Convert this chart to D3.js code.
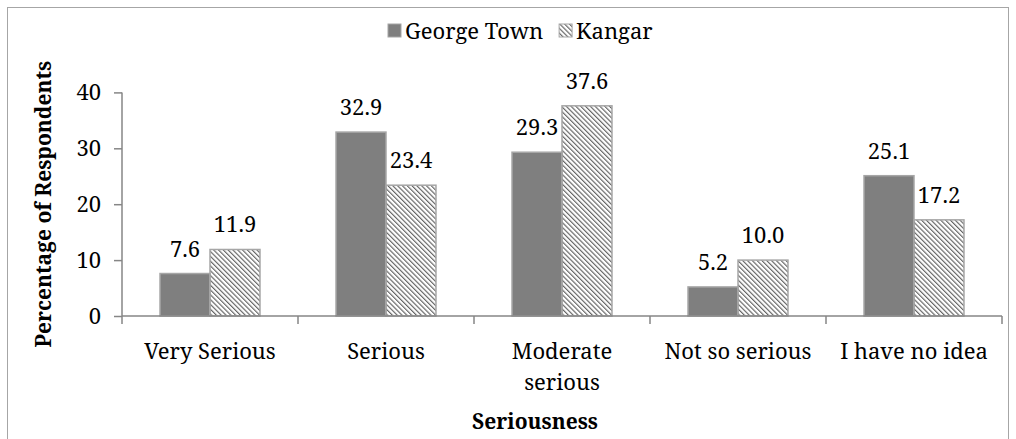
<!DOCTYPE html>
<html>
<head>
<meta charset="utf-8">
<script src="https://cdn.jsdelivr.net/npm/d3@7"></script>
<style>
    body { margin: 0; background: #fff; }
</style>
</head>
<body>
<svg id="chart" width="1016" height="439"></svg>
<script>
    var categories = ["Very Serious", "Serious", "Moderate serious", "Not so serious", "I have no idea"];
    var tickLines = [["Very Serious"], ["Serious"], ["Moderate", "serious"], ["Not so serious"], ["I have no idea"]];
    var seriesNames = ["George Town", "Kangar"];
    var georgeTown = [7.6, 32.9, 29.3, 5.2, 25.1];
    var kangar = [11.9, 23.4, 37.6, 10.0, 17.2];
    var yTicks = [0, 10, 20, 30, 40];

    var FONT = "'Noto Serif', 'Liberation Serif', serif";
    var fontSize = 22;

    var svg = d3.select("#chart");
    var margin = { left: 122, right: 14, top: 92.4, bottom: 123 };
    var width = 1016, height = 439;

    // outer frame
    svg.append("rect")
        .attr("x", 7.5).attr("y", 7.5)
        .attr("width", 1001).attr("height", 440)
        .attr("fill", "none")
        .attr("stroke", "#a6a6a6");

    var defs = svg.append("defs");
    defs.append("pattern")
        .attr("id", "hatch")
        .attr("patternUnits", "userSpaceOnUse")
        .attr("width", 3.4).attr("height", 3.4)
        .attr("patternTransform", "rotate(-45)")
        .append("line")
        .attr("x1", 0.6).attr("y1", 0)
        .attr("x2", 0.6).attr("y2", 3.4)
        .attr("stroke", "#5a5a5a")
        .attr("stroke-width", 1.1);

    var x0 = d3.scaleBand()
        .domain(categories)
        .range([margin.left, width - margin.right])
        .paddingInner(0.432)
        .paddingOuter(0.216);

    var x1 = d3.scaleBand()
        .domain(seriesNames)
        .range([0, x0.bandwidth()]);

    var y = d3.scaleLinear()
        .domain([0, 40])
        .range([height - margin.bottom, margin.top]);

    var rows = categories.map(function(c, i) {
        return { category: c, values: [
            { series: "George Town", value: georgeTown[i] },
            { series: "Kangar", value: kangar[i] }
        ] };
    });

    var fills = { "George Town": "#7f7f7f", "Kangar": "url(#hatch)" };

    // y axis
    var yAxis = svg.append("g")
        .attr("transform", "translate(" + margin.left + ",0)")
        .call(d3.axisLeft(y).tickValues(yTicks).tickSize(8).tickPadding(13));
    yAxis.selectAll("path, line").attr("stroke", "#868686").attr("stroke-width", 1.5);
    yAxis.select(".domain").attr("d", "M0," + y(40) + "V" + y(0));
    yAxis.selectAll("text")
        .style("font-family", FONT)
        .style("font-size", fontSize + "px")
        .attr("fill", "#000");

    // bars
    var groups = svg.append("g").selectAll("g")
        .data(rows)
        .join("g")
        .attr("transform", function(d) { return "translate(" + x0(d.category) + ",0)"; });

    groups.selectAll("rect.bg")
        .data(function(d) { return d.values; })
        .join("rect")
        .attr("class", "bg")
        .attr("x", function(d) { return x1(d.series); })
        .attr("width", x1.bandwidth())
        .attr("y", function(d) { return y(d.value); })
        .attr("height", function(d) { return y(0) - y(d.value); })
        .attr("fill", "#fff");

    groups.selectAll("rect.bar")
        .data(function(d) { return d.values; })
        .join("rect")
        .attr("class", "bar")
        .attr("x", function(d) { return x1(d.series); })
        .attr("width", x1.bandwidth())
        .attr("y", function(d) { return y(d.value); })
        .attr("height", function(d) { return y(0) - y(d.value); })
        .attr("fill", function(d) { return fills[d.series]; })
        .attr("stroke", "#a6a6a6")
        .attr("stroke-width", 1.5);

    groups.selectAll("text.val")
        .data(function(d) { return d.values; })
        .join("text")
        .attr("class", "val")
        .attr("x", function(d) { return x1(d.series) + x1.bandwidth() / 2; })
        .attr("y", function(d) { return y(d.value) - 17; })
        .attr("text-anchor", "middle")
        .style("font-family", FONT)
        .style("font-size", fontSize + "px")
        .text(function(d) { return d3.format(".1f")(d.value); });

    // x axis: boundary ticks between categories
    var step = x0.step();
    var boundaries = d3.range(categories.length + 1).map(function(i) { return margin.left + i * step; });
    var xAxis = svg.append("g");
    xAxis.append("line")
        .attr("x1", margin.left).attr("x2", boundaries[boundaries.length - 1])
        .attr("y1", y(0)).attr("y2", y(0))
        .attr("stroke", "#868686").attr("stroke-width", 1.5);
    xAxis.selectAll("line.tick")
        .data(boundaries)
        .join("line")
        .attr("class", "tick")
        .attr("x1", function(d) { return d; }).attr("x2", function(d) { return d; })
        .attr("y1", y(0)).attr("y2", y(0) + 8)
        .attr("stroke", "#868686").attr("stroke-width", 1.5);

    xAxis.selectAll("text.cat")
        .data(categories)
        .join("text")
        .attr("class", "cat")
        .attr("text-anchor", "middle")
        .attr("y", 359)
        .style("font-family", FONT)
        .style("font-size", fontSize + "px")
        .each(function(d, i) {
            var t = d3.select(this);
            tickLines[i].forEach(function(line, j) {
                t.append("tspan")
                    .attr("x", x0(d) + x0.bandwidth() / 2)
                    .attr("dy", j === 0 ? 0 : 31)
                    .text(line);
            });
        });

    // axis titles
    svg.append("text")
        .attr("x", 535).attr("y", 429)
        .attr("text-anchor", "middle")
        .style("font-family", FONT)
        .style("font-size", "21px")
        .style("font-weight", "bold")
        .text("Seriousness");

    svg.append("text")
        .attr("transform", "translate(51," + ((y(0) + y(40)) / 2) + ") rotate(-90)")
        .attr("text-anchor", "middle")
        .style("font-family", FONT)
        .style("font-size", "21px")
        .style("font-weight", "bold")
        .text("Percentage of Respondents");

    // legend
    var legend = svg.append("g").attr("transform", "translate(388,31)");
    var lx = 0;
    seriesNames.forEach(function(name) {
        legend.append("rect")
            .attr("x", lx).attr("y", -7)
            .attr("width", 13).attr("height", 13)
            .attr("fill", fills[name])
            .attr("stroke", "#a6a6a6")
            .attr("stroke-width", 1);
        var t = legend.append("text")
            .attr("x", lx + 17).attr("y", 8)
            .style("font-family", FONT)
            .style("font-size", fontSize + "px")
            .text(name);
        lx += 17 + t.node().getComputedTextLength() + 16;
    });
</script>
</body>
</html>
